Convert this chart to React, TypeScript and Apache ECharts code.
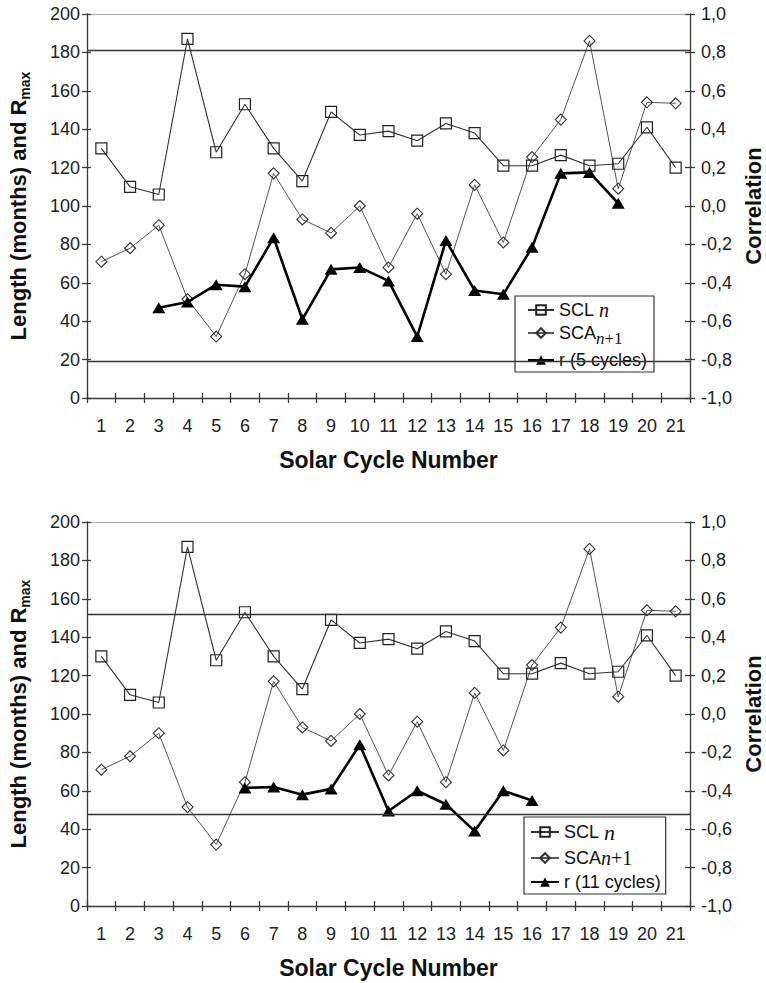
import React, { useEffect, useRef } from "react";
import * as echarts from "echarts";

// ---- data ----
const cycles = ["1","2","3","4","5","6","7","8","9","10","11","12","13","14","15","16","17","18","19","20","21"];
const sclN = [130, 110, 106, 187, 128, 153, 130, 113, 149, 137, 139, 134, 143, 138, 121, 121, 126.5, 121, 122, 141, 120];
const scaN1 = [71, 78, 90, 51.5, 32, 64.5, 117, 93, 86, 100, 68, 96, 64.5, 111, 81, 125.5, 145, 186, 109, 154, 153.5];
const r5 = [null, null, -0.53, -0.5, -0.41, -0.42, -0.165, -0.59, -0.33, -0.32, -0.39, -0.68, -0.18, -0.44, -0.46, -0.215, 0.17, 0.175, 0.014, null, null];
const r11 = [null, null, null, null, null, -0.385, -0.38, -0.42, -0.39, -0.16, -0.505, -0.4, -0.47, -0.61, -0.4, -0.45, null, null, null, null, null];
const sigTop = [0.81, -0.81];
const sigBottom = [0.52, -0.52];
const leftAxis = { min: 0, max: 200, interval: 20 };
const rightAxis = { min: -1, max: 1, interval: 0.2 };
const rLabels = ["r (5 cycles)", "r (11 cycles)"];

const FONT = "'Liberation Sans', Arial, Helvetica, sans-serif";
const SERIF = "'Liberation Serif', 'Times New Roman', serif";
const AXIS_COLOR = "#3a3a3a";
const LABEL_SIZE = 18;

export default function App() {
  const ref = useRef<HTMLDivElement>(null);
  useEffect(() => {
    if (!ref.current) return;
    const chart = echarts.init(ref.current, null, { renderer: "svg" });

    const grids = [
      { left: 87, top: 14, width: 603, height: 384 },
      { left: 87, top: 522, width: 603, height: 384 },
    ];
    const rData = [r5, r11];
    const sig = [sigTop, sigBottom];

    const xAxes: any[] = [];
    const yAxes: any[] = [];
    const series: any[] = [];
    const legends: any[] = [];

    const legendBoxes = [
      { left: 515, top: 296, padding: [4, 7, 3, 12], itemWidth: 26, nSize: 20, n1Size: 17, n1Pad: [0, 0, -4, 0], itemGap: 4 },
      { left: 524, top: 817, padding: [4, 5, 3, 6], itemWidth: 28, nSize: 22, n1Size: 20, n1Pad: [0, 0, 0, 0], itemGap: 5 },
    ];

    grids.forEach((g, gi) => {
      const xBase = xAxes.length;
      const yBase = yAxes.length;
      xAxes.push({
        gridIndex: gi, type: "category", data: cycles, boundaryGap: true, position: "bottom",
        axisLine: { show: true, onZero: false, lineStyle: { color: AXIS_COLOR, width: 1.3 } },
        axisTick: { show: true, length: 5, lineStyle: { color: AXIS_COLOR, width: 1.3 } },
        axisLabel: { fontSize: LABEL_SIZE, color: "#222", margin: 19, fontFamily: FONT, interval: 0 },
        splitLine: { show: false },
      });
      xAxes.push({
        gridIndex: gi, type: "category", data: cycles, boundaryGap: true, position: "bottom",
        axisLine: { show: false, onZero: false },
        axisTick: { show: true, inside: true, length: 5, lineStyle: { color: AXIS_COLOR, width: 1.3 } },
        axisLabel: { show: false }, splitLine: { show: false },
      });
      xAxes.push({
        gridIndex: gi, type: "category", data: cycles, boundaryGap: true, position: "top",
        axisLine: { show: true, onZero: false, lineStyle: { color: "#a8a8a8", width: 1.2 } },
        axisTick: { show: false }, axisLabel: { show: false }, splitLine: { show: false },
      });
      yAxes.push({
        gridIndex: gi, type: "value", position: "left", ...leftAxis,
        axisLine: { show: true, onZero: false, lineStyle: { color: AXIS_COLOR, width: 1.3 } },
        axisTick: { show: true, length: 5, lineStyle: { color: AXIS_COLOR, width: 1.3 } },
        axisLabel: { fontSize: LABEL_SIZE, color: "#222", margin: 7, fontFamily: FONT },
        splitLine: { show: false },
      });
      yAxes.push({
        gridIndex: gi, type: "value", position: "right", ...rightAxis,
        axisLine: { show: true, onZero: false, lineStyle: { color: AXIS_COLOR, width: 1.3 } },
        axisTick: { show: true, length: 5, lineStyle: { color: AXIS_COLOR, width: 1.3 } },
        axisLabel: {
          fontSize: LABEL_SIZE, color: "#222", margin: 11, fontFamily: FONT,
          formatter: (v: number) => (Math.abs(v) < 1e-9 ? 0 : v).toFixed(1).replace(".", ","),
        },
        splitLine: { show: false },
      });
      yAxes.push({
        gridIndex: gi, type: "value", position: "left", ...leftAxis,
        axisLine: { show: false, onZero: false },
        axisTick: { show: true, inside: true, length: 4, lineStyle: { color: AXIS_COLOR, width: 1.3 } },
        axisLabel: { show: false }, splitLine: { show: false },
      });
      yAxes.push({
        gridIndex: gi, type: "value", position: "right", ...rightAxis,
        axisLine: { show: false, onZero: false },
        axisTick: { show: true, inside: true, length: 5, lineStyle: { color: AXIS_COLOR, width: 1.3 } },
        axisLabel: { show: false }, splitLine: { show: false },
      });

      series.push({
        name: "SCL n", type: "line", xAxisIndex: xBase, yAxisIndex: yBase, data: sclN,
        symbol: "rect", symbolSize: 11, showAllSymbol: true,
        itemStyle: { color: "rgba(255,255,255,0)", borderColor: "#222", borderWidth: 1.2 },
        lineStyle: { color: "#333", width: 1.1 }, z: 3,
      });
      series.push({
        name: "SCA n+1", type: "line", xAxisIndex: xBase, yAxisIndex: yBase, data: scaN1,
        symbol: "diamond", symbolSize: 11, showAllSymbol: true,
        itemStyle: { color: "rgba(255,255,255,0)", borderColor: "#333", borderWidth: 1.1 },
        lineStyle: { color: "#555", width: 1 }, z: 2,
      });
      series.push({
        name: rLabels[gi], type: "line", xAxisIndex: xBase, yAxisIndex: yBase + 1, data: rData[gi],
        symbol: "triangle", symbolSize: [13, 11], showAllSymbol: true, connectNulls: false,
        itemStyle: { color: "#000" },
        lineStyle: { color: "#000", width: 2.6 }, z: 4,
        markLine: {
          silent: true, symbol: ["none", "none"], label: { show: false },
          lineStyle: { color: "#333", width: 1.3, type: "solid" },
          data: sig[gi].map((v) => ({ yAxis: v })),
        },
      });

      const lb = legendBoxes[gi];
      legends.push({
        orient: "vertical", left: lb.left, top: lb.top, padding: lb.padding,
        itemGap: lb.itemGap, itemWidth: lb.itemWidth, itemHeight: 12,
        borderColor: "#333", borderWidth: 1.2, backgroundColor: "#fff",
        selectedMode: false,
        data: ["SCL n", "SCA n+1", rLabels[gi]],
        formatter: (name: string) => {
          if (name === "SCL n") return "{t|SCL }{n|n}";
          if (name === "SCA n+1") return "{t|SCA}{s|n}{p|+1}";
          return "{t|" + name + "}";
        },
        textStyle: {
          fontFamily: FONT, fontSize: 18, color: "#111",
          rich: {
            t: { fontFamily: FONT, fontSize: 18, color: "#111", lineHeight: 20 },
            n: { fontFamily: SERIF, fontStyle: "italic", fontSize: lb.nSize, color: "#111", lineHeight: 20 },
            s: { fontFamily: SERIF, fontStyle: "italic", fontSize: lb.n1Size, color: "#111", lineHeight: 20, padding: lb.n1Pad, verticalAlign: "bottom" },
            p: { fontFamily: SERIF, fontSize: lb.n1Size, color: "#111", lineHeight: 20, padding: lb.n1Pad, verticalAlign: "bottom" },
          },
        },
      });
    });

    const titleRich = {
      a: { fontFamily: FONT, fontWeight: "bold", fontSize: 22, fill: "#111", color: "#111", lineHeight: 26, verticalAlign: "bottom" },
      s: { fontFamily: FONT, fontWeight: "bold", fontSize: 14, fill: "#111", color: "#111", lineHeight: 14, verticalAlign: "bottom", padding: [0, 0, -3, 0] },
    };

    const graphics: any[] = [];
    grids.forEach((g) => {
      const cy = g.top + g.height / 2;
      graphics.push({
        type: "text", x: 16, y: cy, rotation: Math.PI / 2,
        style: { text: "{a|Length (months) and R}{s|max}", rich: titleRich, align: "center", verticalAlign: "middle", fill: "#111" },
      });
      graphics.push({
        type: "text", x: 753, y: cy, rotation: Math.PI / 2,
        style: { text: "Correlation", font: "bold 22px " + FONT, fill: "#111", align: "center", verticalAlign: "middle" },
      });
      graphics.push({
        type: "text", x: g.left + g.width / 2, y: g.top + g.height + 62,
        style: { text: "Solar Cycle Number", font: "bold 23px " + FONT, fill: "#111", align: "center", verticalAlign: "middle" },
      });
    });

    chart.setOption({
      animation: false,
      backgroundColor: "#fff",
      grid: grids,
      xAxis: xAxes,
      yAxis: yAxes,
      legend: legends,
      series,
      graphic: graphics,
    });
    return () => chart.dispose();
  }, []);
  return (
    <div
      ref={ref}
      style={{ position: "fixed", left: 0, top: 0, width: 766, height: 983, background: "#fff" }}
    />
  );
}
